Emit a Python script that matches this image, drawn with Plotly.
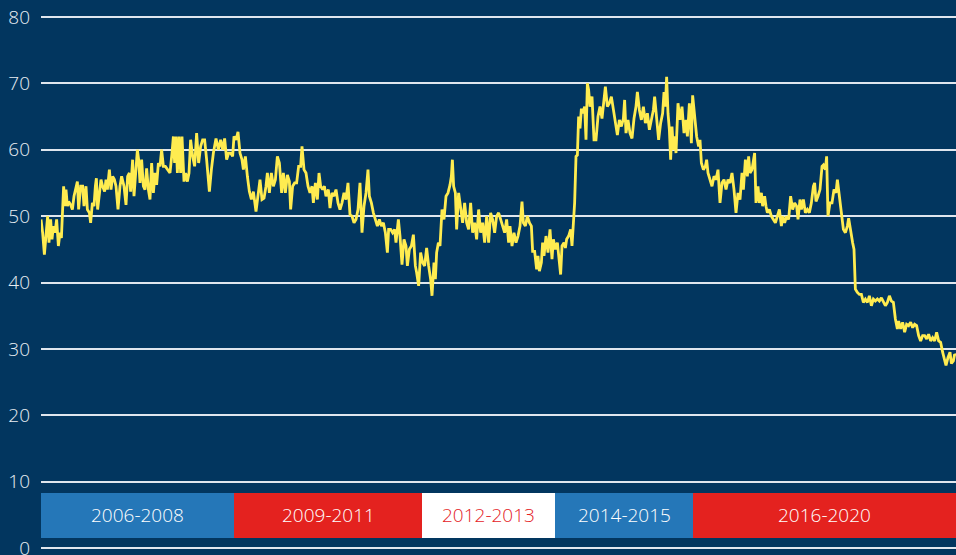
import plotly.graph_objects as go

# ---- data (x in weeks from start of series) ----
weeks = [0, 1.3, 2.7, 4.0, 5.3, 6.4, 7.7, 8.8, 9.9, 11.2, 12.5, 13.9, 15.2, 16.3, 17.3, 18.1, 19.2, 20.0, 21.1, 22.1,
         23.7, 25.1, 26.4, 28.0, 29.1, 30.1, 31.7, 33.3, 34.4, 36.0, 37.1, 38.7, 39.7, 41.1, 42.4, 43.5, 44.3, 45.3, 46.7, 48.0,
         49.3, 50.9, 52.0, 53.1, 54.7, 56.0, 57.3, 58.7, 60.0, 61.6, 63.2, 64.5, 66.4, 68.0, 69.3, 70.7, 71.7, 73.3, 74.4, 75.7,
         77.1, 78.1, 79.2, 80.5, 81.9, 83.2, 84.5, 85.9, 87.2, 88.5, 89.9, 91.2, 92.5, 93.9, 95.2, 96.5, 97.9, 99.5, 101.3, 103.2,
         104.8, 105.9, 106.9, 108.0, 109.1, 110.4, 111.7, 112.8, 114.4, 115.7, 117.1, 118.4, 119.7, 121.3, 122.9, 124.5, 126.1, 127.7, 129.3, 130.9,
         132.5, 134.7, 136.3, 137.9, 140.0, 141.9, 143.7, 145.3, 146.9, 148.5, 150.1, 151.7, 153.3, 154.4, 156.0, 157.6, 159.2, 160.8, 161.9, 163.5,
         165.1, 166.7, 168.3, 169.9, 172.0, 173.6, 175.2, 176.8, 178.4, 180.0, 181.1, 182.7, 184.3, 185.9, 187.5, 189.1, 190.7, 192.5, 193.9, 195.5,
         197.1, 198.7, 199.7, 201.3, 202.9, 204.5, 206.1, 207.7, 208.8, 210.4, 212.0, 213.6, 215.2, 216.8, 217.9, 219.5, 221.1,
         222.4, 223.7, 225.3, 226.7, 228.0, 229.9, 231.2, 232.8, 234.4, 236.0, 237.6, 239.2, 240.8, 242.4, 244.0, 245.6, 247.2, 248.8, 250.4, 252.0,
         253.6, 255.2, 256.8, 258.4, 260.0, 261.6, 262.7, 264.3, 265.9, 267.5, 269.1, 270.7, 272.3, 273.9, 275.5, 277.1, 278.1, 279.7, 281.3, 282.9,
         284.0, 285.9, 287.2, 288.8, 290.4, 292.0, 293.1, 294.7, 296.3, 297.9, 299.5, 300.5, 302.1, 303.7, 305.3, 306.9, 308.5, 310.1, 311.7, 312.8,
         314.4, 315.5, 316.5, 317.9, 319.2, 320.8, 322.4, 324.0, 325.6, 327.2, 328.3, 329.1, 330.1, 331.5, 332.5, 334.1, 335.7, 337.3, 338.9, 340.5,
         342.1, 343.7, 345.3, 346.9, 348.5, 350.1, 351.7, 353.3, 354.9, 356.5, 358.1, 359.7, 361.3, 362.9, 364.5, 366.1, 367.7, 369.3, 370.9, 372.5,
         374.1, 375.2, 376.8, 378.4, 380.0, 381.6, 383.2, 384.8, 385.9, 387.5, 389.1, 390.7, 392.3, 393.3, 394.9, 396.5, 397.6, 398.7, 400.3, 401.3,
         402.4, 404.0, 405.6, 407.2, 408.8, 409.9, 411.5, 413.1, 414.1, 415.7, 416.8, 418.4, 419.5, 420.5, 422.1, 423.7, 424.8, 425.9, 426.9, 428.0,
         429.1, 430.1, 431.2, 432.3, 433.3, 434.9, 436.0, 437.1, 438.1, 439.2, 440.8, 442.4, 444.0, 445.6, 447.2, 448.8, 450.4, 451.5, 453.1, 454.7,
         456.3, 457.9, 459.5, 461.1, 462.7, 464.3, 465.9, 466.9, 468.0, 469.6, 471.2, 472.8, 474.4, 476.0, 477.1, 478.7, 480.3, 481.9, 483.5, 485.1,
         486.7, 488.3, 489.9, 490.9, 492.5, 494.1, 495.7, 497.3, 498.4, 499.5, 500.5, 501.6, 502.7, 503.7, 504.8, 505.9, 506.9, 508.0, 509.6, 511.2,
         512.8, 514.4, 516.0, 517.1, 518.7, 520.3, 521.3, 522.9, 524.5, 526.1, 527.2, 528.3, 529.9, 531.5, 532.5, 533.6, 535.2, 536.8, 538.4, 540.0,
         541.6, 543.2, 544.8, 546.4, 548.0, 549.6, 551.2, 552.8, 554.4, 556.0,
         557.6, 559.2, 560.8, 561.9, 563.5, 565.1, 566.1, 567.2, 568.8, 569.9, 570.9, 572.0, 573.6, 574.7, 576.3, 577.3, 578.9, 580.0, 581.1, 582.7,
         584.3, 585.9, 587.5, 589.1, 590.7, 592.3, 593.3, 594.9, 596.5, 598.1, 599.7, 601.3, 602.9, 604.5, 605.6, 607.2, 608.3, 609.9, 611.5, 613.1,
         614.7, 616.3, 617.9, 618.9, 620.0, 621.6, 623.2, 624.8, 625.9, 627.5, 628.5, 629.6, 631.2, 632.8, 634.4, 636.0, 637.1, 638.7, 640.3, 641.9,
         643.5, 645.1, 646.1, 647.7, 649.3, 650.4, 651.5, 653.1, 654.7, 656.3, 657.9, 659.5, 661.1, 662.7, 664.3, 665.9, 667.5, 669.1, 670.7, 672.3,
         673.9, 675.5, 677.1, 678.7, 680.3, 681.9, 683.5, 685.1, 686.1, 687.7, 689.3, 690.9, 692.5, 694.1, 695.7, 697.3, 698.9, 700.5, 702.1, 703.7,
         705.3, 706.9, 708.5, 710.1, 711.7, 713.3, 714.9, 716.5, 718.1, 719.7, 721.3, 722.9, 724.0, 725.6, 727.2, 728.3, 729.9, 730.9, 732.0]

values = [49.5, 47.5, 44.2, 47.5, 50, 46, 49.5, 46.5, 48.5, 47.5, 49.5, 45.5, 47.5, 46.7, 51, 54.5, 51.5, 54, 51.5, 52.2,
          51.7, 51, 53, 54.5, 55.2, 51, 54.5, 54.5, 51.5, 54.5, 51, 50.5, 49, 52, 51.5, 54.5, 55.7, 51, 53, 55.5,
          54.5, 53.7, 55.5, 54, 57, 54, 56, 55.5, 54.5, 51, 54.5, 56, 54.5, 51.7, 56, 56.5, 53.7, 58.5, 53, 56.5,
          60, 58.5, 55, 58.5, 54.5, 54, 57.2, 54, 52.5, 58, 53.5, 56.5, 54.7, 58, 57.5, 60, 57.5, 57.5, 57, 56.5,
          59.5, 62, 58, 62, 56.5, 62, 56.5, 62, 55.2, 56.5, 55.2, 56.5, 61.5, 59, 57.5, 62.5, 58, 60.5, 61.5, 61.5,
          58.5, 53.7, 57, 59.5, 61.7, 60, 61.5, 60, 61.7, 58.5, 59.5, 59.5, 59, 62, 61.5, 62.7, 59.5, 58.5, 57, 59,
          56, 53.7, 52.5, 53.7, 50.7, 53.5, 55.5, 52.5, 52.7, 54.5, 56.5, 53.5, 56.5, 54.5, 55.5, 59, 58, 53.5, 56.5, 53.5,
          56.2, 55.2, 51, 54.5, 55, 55, 57.5, 57.5, 60.5, 57, 56.5, 54.5, 53.5, 54.5, 52, 55, 52.5,
          56.5, 54.5, 54, 54.5, 53, 54, 51.2, 53.5, 53, 54, 52, 51, 52, 53.5, 52.5, 55, 50.2, 50, 49, 49.5,
          51, 55, 47.5, 51.5, 53.5, 57, 53, 52, 50.5, 49.5, 48.5, 49.5, 48.5, 49, 47.5, 44.5, 48, 48, 47.5, 48,
          46, 49.5, 47, 42.7, 46.5, 45.5, 42.5, 45, 45.5, 47.2, 42.5, 41.5, 39.5, 44.5, 43, 42.5, 45.2, 42.5, 40.5, 38,
          43, 40.5, 44.5, 46, 45.5, 51, 49.5, 53, 53.5, 54.7, 56, 58.5, 54.5, 53.5, 48, 53.5, 51, 49, 52, 49,
          48, 52, 47.5, 49, 46.5, 51, 47.5, 49, 46, 50, 46, 50.5, 49.5, 47.5, 50, 50.5, 49.5, 48.5, 47.5, 49.5,
          46, 48.5, 45.5, 47.5, 46, 47, 48.5, 52.2, 49, 48.5, 50, 49, 48.5, 44.7, 44.7, 42, 44, 41.7, 43, 46,
          44, 47, 44.5, 48, 43.5, 46.5, 45, 46, 44, 41.2, 45.5, 46, 45.2, 46.5, 47, 48, 45.5, 48.5, 52, 59,
          59.2, 65, 63.2, 66.2, 65.5, 66.5, 61.5, 70, 69, 66.5, 68, 61.5, 61.5, 65, 66.5, 64.7, 68, 69.5, 66.5, 67,
          68, 66, 63.5, 62.2, 64.5, 63.5, 64.7, 67.5, 62.5, 64.5, 62.5, 61.7, 64.7, 66.5, 68.7, 66, 64.5, 66.5, 64, 65.5,
          63, 64.5, 66, 68, 64, 61.5, 64, 65.5, 68.7, 66.5, 71, 65.5, 63, 58.5, 63.5, 60, 62, 59.5, 67, 64.5,
          66.5, 62.5, 64.5, 62, 67, 61, 68.2, 64.5, 62, 60.5, 61.5, 58, 57, 57.5, 58.5, 56.5, 55.5, 54.5, 56, 55.5,
          57, 52, 55, 55.5, 54, 55.5, 55, 56.5, 54, 50.5,
          53.5, 52.5, 56.5, 54, 58.5, 56, 59, 56.5, 57, 58.5, 59.5, 52, 54.5, 52, 53.5, 51.5, 53, 51.5, 50.5, 51,
          50, 49.5, 49, 50, 51, 48.5, 50, 49, 50, 49.5, 53, 51, 52, 51.5, 49.5, 52.5, 51, 52.5, 50.5, 51,
          50.5, 52, 54.5, 55, 52.2, 53, 54, 57.5, 57.7, 57, 59, 50, 52, 52, 54, 53.5, 55.5, 53, 50, 48,
          47.5, 48.5, 49.7, 47.5, 46, 45, 39, 38.5, 38.2, 38.2, 37, 37.5, 37, 38, 36.5, 37.5, 37.2, 37.5, 37.2, 37.7,
          37, 36.5, 37, 38, 37.2, 37, 34.5, 33, 34.2, 33, 34, 32.5, 33.7, 33.5, 34, 33.2, 33.7, 33.5, 32, 31.2,
          32, 32, 31.5, 32.2, 31.2, 31.7, 31.2, 32.5, 31.2, 31, 29.5, 28.5, 27.5, 28.7, 29.5, 27.8, 28.2, 29.2, 29]

band_labels = ["2006-2008", "2009-2011", "2012-2013", "2014-2015", "2016-2020"]
band_start = [0, 154.4, 304.8, 411.2, 521.6]
band_end = [154.4, 304.8, 411.2, 521.6, 732]
band_fill = ["#2577b8", "#e4221f", "#ffffff", "#2577b8", "#e4221f"]
band_text = ["#ffffff", "#ffffff", "#e4221f", "#ffffff", "#ffffff"]
band_bottom, band_top = 1.5, 8.3

y_ticks = [0, 10, 20, 30, 40, 50, 60, 70, 80]

BG = "#02365f"
FONT = "Open Sans"

fig = go.Figure()
fig.add_trace(go.Scatter(x=weeks, y=values, mode="lines",
                         line=dict(color="#ffec50", width=2.8), hoverinfo="skip"))

for lab, s, e, fc, tc in zip(band_labels, band_start, band_end, band_fill, band_text):
    fig.add_shape(type="rect", xref="x", yref="y", x0=s, x1=e, y0=band_bottom, y1=band_top,
                  fillcolor=fc, line=dict(width=0), layer="below")
    fig.add_annotation(x=(s + e) / 2, y=(band_bottom + band_top) / 2, xref="x", yref="y",
                       text=lab, showarrow=False,
                       font=dict(family=FONT, size=19, color=tc, weight=300))

fig.update_layout(
    width=956, height=555,
    margin=dict(l=41, r=0, t=15, b=5, autoexpand=False),
    paper_bgcolor=BG, plot_bgcolor=BG,
    showlegend=False,
    xaxis=dict(range=[0, 732], showgrid=False, zeroline=False, showticklabels=False,
               showline=False, fixedrange=True, automargin=False),
    yaxis=dict(range=[-0.3, 80.3], tickvals=y_ticks, showgrid=True, gridcolor="#dfe6ee",
               gridwidth=1.5, zeroline=False, showline=False, automargin=False,
               tickfont=dict(family=FONT, size=19, color="#e8edf2", weight=300),
               ticklabelstandoff=10, ticklabeloverflow="allow", fixedrange=True),
)

fig.write_html("out.html", config={"displayModeBar": False},
               post_script="document.body.style.margin='0';document.body.style.overflow='hidden';")
